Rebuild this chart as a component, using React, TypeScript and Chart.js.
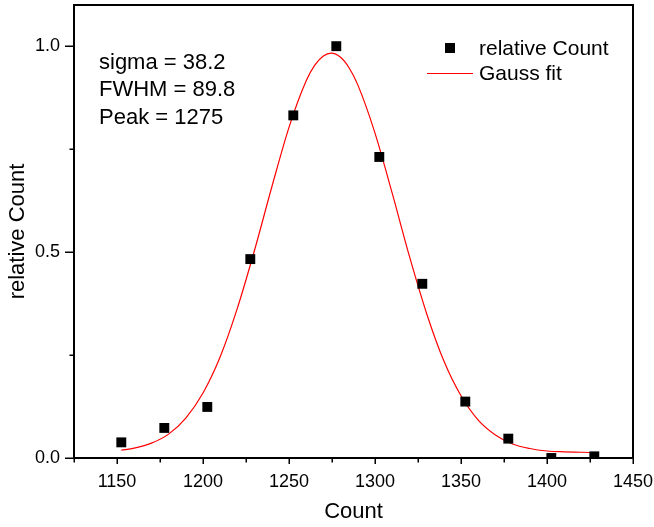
import React, { useEffect, useRef } from 'react';
import { Chart, registerables } from 'chart.js';

Chart.register(...registerables);

// ---- data ----
const binCenters = [1152.5, 1177.5, 1202.5, 1227.5, 1252.5, 1277.5, 1302.5, 1327.5, 1352.5, 1377.5, 1402.5, 1427.5];
const relativeCount = [0.038, 0.073, 0.124, 0.483, 0.832, 1.0, 0.731, 0.423, 0.137, 0.047, 0.0, 0.004];

const fitX = [1152.5, 1160, 1170, 1180, 1190, 1200, 1210, 1220, 1230, 1240, 1250, 1260, 1265, 1270, 1274.5, 1280, 1285, 1290, 1300, 1310, 1320, 1330, 1340, 1350, 1360, 1370, 1380, 1390, 1400, 1410, 1420, 1427.5];
const fitY = [0.019, 0.024, 0.036, 0.058, 0.097, 0.158, 0.246, 0.364, 0.505, 0.658, 0.803, 0.916, 0.954, 0.976, 0.983, 0.973, 0.947, 0.906, 0.789, 0.643, 0.490, 0.351, 0.236, 0.151, 0.092, 0.056, 0.034, 0.023, 0.017, 0.015, 0.014, 0.013];

const xLabelTicks = [1150, 1200, 1250, 1300, 1350, 1400, 1450];
const yLabelTicks = [0, 0.5, 1.0];
const annotationLines = ['sigma = 38.2', 'FWHM = 89.8', 'Peak = 1275'];

const FONT = '"Liberation Sans", Arial, sans-serif';

const decorPlugin = {
  id: 'decor',
  afterDraw(chart: any) {
    const { ctx, chartArea: a, scales } = chart;
    ctx.save();
    ctx.strokeStyle = '#000';
    ctx.lineWidth = 2;
    ctx.strokeRect(a.left, a.top, a.right - a.left, a.bottom - a.top);

    ctx.lineWidth = 1.5;
    const xs = scales.x;
    xs.ticks.forEach((t: any) => {
      const p = Math.round(xs.getPixelForValue(t.value)) + 0.25;
      const major = xLabelTicks.includes(t.value);
      ctx.beginPath();
      ctx.moveTo(p, a.bottom);
      ctx.lineTo(p, a.bottom + (major ? 6 : 4.5));
      ctx.stroke();
    });
    const ys = scales.y;
    ys.ticks.forEach((t: any) => {
      const p = Math.round(ys.getPixelForValue(t.value)) + 0.25;
      const major = yLabelTicks.some((v) => Math.abs(v - t.value) < 1e-9);
      ctx.beginPath();
      ctx.moveTo(a.left, p);
      ctx.lineTo(a.left - (major ? 9 : 4.5), p);
      ctx.stroke();
    });

    // annotation text
    ctx.fillStyle = '#000';
    ctx.font = `22px ${FONT}`;
    ctx.textAlign = 'left';
    ctx.textBaseline = 'alphabetic';
    annotationLines.forEach((line, i) => {
      ctx.fillText(line, a.left + 25, a.top + 63.5 + i * 27.5);
    });

    // legend
    const ds = chart.data.datasets;
    ctx.font = `21px ${FONT}`;
    const textX = a.right - 154;
    ctx.fillStyle = ds[0].backgroundColor;
    ctx.fillRect(a.right - 188, a.top + 38, 10, 10);
    ctx.fillStyle = '#000';
    ctx.fillText(ds[0].label, textX, a.top + 50);
    ctx.strokeStyle = ds[1].borderColor;
    ctx.lineWidth = 1.2;
    ctx.beginPath();
    ctx.moveTo(a.right - 206, a.top + 68.5);
    ctx.lineTo(a.right - 160, a.top + 68.5);
    ctx.stroke();
    ctx.fillText(ds[1].label, textX, a.top + 75);
    ctx.restore();
  },
};

const zeroPad = (s: any) => {
  s.paddingTop = 0;
  s.paddingBottom = 0;
  s.paddingLeft = 0;
  s.paddingRight = 0;
};

export default function App() {
  const canvasRef = useRef<HTMLCanvasElement | null>(null);

  useEffect(() => {
    if (!canvasRef.current) return;
    const chart = new Chart(canvasRef.current, {
      type: 'scatter',
      data: {
        datasets: [
          {
            label: 'relative Count',
            data: binCenters.map((x, i) => ({ x, y: relativeCount[i] })),
            backgroundColor: '#000',
            borderColor: '#000',
            pointStyle: 'rect',
            pointRadius: 7,
            pointHoverRadius: 7,
            pointBorderWidth: 0,
            showLine: false,
            clip: 0,
            order: 0,
          } as any,
          {
            type: 'line',
            label: 'Gauss fit',
            data: fitX.map((x, i) => ({ x, y: fitY[i] })),
            borderColor: 'rgb(255,0,0)',
            backgroundColor: 'rgb(255,0,0)',
            borderWidth: 1.2,
            pointRadius: 0,
            pointHoverRadius: 0,
            showLine: true,
            cubicInterpolationMode: 'monotone',
            fill: false,
            order: 1,
          } as any,
        ],
      },
      options: {
        responsive: false,
        devicePixelRatio: 1,
        animation: false,
        layout: { autoPadding: false, padding: { top: 5, right: 21, bottom: 0, left: 0 } },
        plugins: {
          legend: { display: false },
          tooltip: { enabled: false },
        },
        scales: {
          x: {
            type: 'linear',
            min: 1125,
            max: 1450,
            grid: { display: false },
            border: { display: false },
            ticks: {
              stepSize: 25,
              includeBounds: false,
              autoSkip: false,
              maxRotation: 0,
              padding: 5,
              color: '#000',
              font: { family: FONT, size: 18 },
              callback: (v: any) => (xLabelTicks.includes(Number(v)) ? String(v) : ''),
            },
            title: {
              display: true,
              text: 'Count',
              color: '#000',
              font: { family: FONT, size: 22 },
              padding: { top: 0, bottom: 2 },
            },
            afterFit: (s: any) => {
              s.height = 69;
              zeroPad(s);
            },
          },
          y: {
            type: 'linear',
            min: 0,
            max: 1.1,
            grid: { display: false },
            border: { display: false },
            ticks: {
              stepSize: 0.25,
              includeBounds: false,
              autoSkip: false,
              padding: 6,
              color: '#000',
              font: { family: FONT, size: 18 },
              callback: (v: any) =>
                yLabelTicks.some((t) => Math.abs(t - Number(v)) < 1e-9) ? Number(v).toFixed(1) : '',
            },
            title: {
              display: true,
              text: 'relative Count',
              color: '#000',
              font: { family: FONT, size: 22 },
              padding: { top: 5, bottom: 0 },
            },
            afterFit: (s: any) => {
              s.width = 74;
              zeroPad(s);
            },
          },
        },
      },
      plugins: [decorPlugin],
    });
    return () => chart.destroy();
  }, []);

  return (
    <div style={{ position: 'fixed', left: 0, top: 0, width: 654, height: 527, background: '#fff' }}>
      <canvas ref={canvasRef} width={654} height={527} />
    </div>
  );
}
